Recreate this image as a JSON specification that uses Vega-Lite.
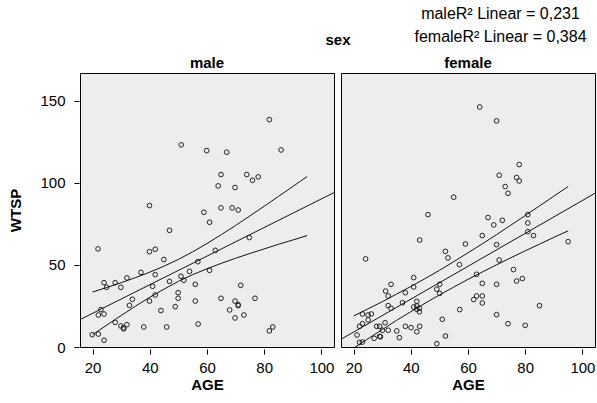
{
  "$schema": "https://vega.github.io/schema/vega-lite/v6.json",
  "padding": {"left": 8, "top": 6, "right": 3, "bottom": 5},
  "background": "white",
  "title": {
    "text": ["maleR² Linear = 0,231", "femaleR² Linear = 0,384"],
    "anchor": "end",
    "align": "center",
    "dx": -95,
    "offset": -12,
    "fontSize": 16,
    "fontWeight": "normal",
    "font": "Liberation Sans",
    "lineHeight": 23,
    "color": "black"
  },
  "data": {"values": [
    {"sex":"male","kind":"obs","AGE":81.8,"WTSP":138.6},{"sex":"male","kind":"obs","AGE":51.0,"WTSP":123.2},{"sex":"male","kind":"obs","AGE":59.9,"WTSP":119.7},{"sex":"male","kind":"obs","AGE":66.9,"WTSP":118.7},{"sex":"male","kind":"obs","AGE":85.9,"WTSP":120.1},{"sex":"male","kind":"obs","AGE":64.9,"WTSP":105.1},{"sex":"male","kind":"obs","AGE":73.9,"WTSP":105.1},{"sex":"male","kind":"obs","AGE":77.9,"WTSP":103.7},{"sex":"male","kind":"obs","AGE":75.9,"WTSP":101.6},{"sex":"male","kind":"obs","AGE":63.9,"WTSP":98.2},{"sex":"male","kind":"obs","AGE":69.8,"WTSP":97.2},{"sex":"male","kind":"obs","AGE":39.9,"WTSP":86.2},{"sex":"male","kind":"obs","AGE":64.9,"WTSP":84.8},{"sex":"male","kind":"obs","AGE":68.8,"WTSP":84.8},{"sex":"male","kind":"obs","AGE":70.9,"WTSP":83.5},{"sex":"male","kind":"obs","AGE":58.9,"WTSP":82.1},{"sex":"male","kind":"obs","AGE":60.9,"WTSP":76.0},{"sex":"male","kind":"obs","AGE":46.9,"WTSP":71.1},{"sex":"male","kind":"obs","AGE":74.8,"WTSP":66.7},{"sex":"male","kind":"obs","AGE":21.9,"WTSP":59.8},{"sex":"male","kind":"obs","AGE":39.9,"WTSP":58.1},{"sex":"male","kind":"obs","AGE":41.9,"WTSP":59.6},{"sex":"male","kind":"obs","AGE":62.9,"WTSP":58.9},{"sex":"male","kind":"obs","AGE":44.9,"WTSP":53.3},{"sex":"male","kind":"obs","AGE":56.8,"WTSP":52.0},{"sex":"male","kind":"obs","AGE":36.9,"WTSP":45.5},{"sex":"male","kind":"obs","AGE":53.9,"WTSP":46.1},{"sex":"male","kind":"obs","AGE":60.9,"WTSP":46.7},{"sex":"male","kind":"obs","AGE":41.9,"WTSP":44.1},{"sex":"male","kind":"obs","AGE":50.9,"WTSP":43.1},{"sex":"male","kind":"obs","AGE":51.9,"WTSP":40.7},{"sex":"male","kind":"obs","AGE":32.0,"WTSP":42.1},{"sex":"male","kind":"obs","AGE":24.0,"WTSP":39.2},{"sex":"male","kind":"obs","AGE":27.9,"WTSP":39.2},{"sex":"male","kind":"obs","AGE":24.9,"WTSP":36.4},{"sex":"male","kind":"obs","AGE":29.9,"WTSP":36.4},{"sex":"male","kind":"obs","AGE":46.9,"WTSP":40.0},{"sex":"male","kind":"obs","AGE":41.0,"WTSP":37.0},{"sex":"male","kind":"obs","AGE":55.9,"WTSP":38.2},{"sex":"male","kind":"obs","AGE":71.8,"WTSP":37.6},{"sex":"male","kind":"obs","AGE":49.9,"WTSP":33.1},{"sex":"male","kind":"obs","AGE":41.9,"WTSP":31.7},{"sex":"male","kind":"obs","AGE":33.9,"WTSP":29.1},{"sex":"male","kind":"obs","AGE":49.9,"WTSP":29.7},{"sex":"male","kind":"obs","AGE":64.9,"WTSP":29.7},{"sex":"male","kind":"obs","AGE":76.8,"WTSP":29.7},{"sex":"male","kind":"obs","AGE":39.9,"WTSP":28.0},{"sex":"male","kind":"obs","AGE":55.9,"WTSP":28.0},{"sex":"male","kind":"obs","AGE":69.8,"WTSP":28.0},{"sex":"male","kind":"obs","AGE":32.9,"WTSP":25.4},{"sex":"male","kind":"obs","AGE":70.9,"WTSP":25.8},{"sex":"male","kind":"obs","AGE":70.9,"WTSP":25.2},{"sex":"male","kind":"obs","AGE":48.9,"WTSP":24.6},{"sex":"male","kind":"obs","AGE":22.9,"WTSP":22.8},{"sex":"male","kind":"obs","AGE":43.9,"WTSP":22.2},{"sex":"male","kind":"obs","AGE":67.9,"WTSP":22.6},{"sex":"male","kind":"obs","AGE":22.0,"WTSP":19.5},{"sex":"male","kind":"obs","AGE":24.0,"WTSP":20.1},{"sex":"male","kind":"obs","AGE":72.9,"WTSP":19.5},{"sex":"male","kind":"obs","AGE":69.8,"WTSP":17.7},{"sex":"male","kind":"obs","AGE":27.9,"WTSP":15.0},{"sex":"male","kind":"obs","AGE":56.9,"WTSP":14.0},{"sex":"male","kind":"obs","AGE":29.9,"WTSP":12.8},{"sex":"male","kind":"obs","AGE":30.8,"WTSP":11.8},{"sex":"male","kind":"obs","AGE":32.0,"WTSP":13.6},{"sex":"male","kind":"obs","AGE":30.9,"WTSP":11.0},{"sex":"male","kind":"obs","AGE":37.9,"WTSP":12.2},{"sex":"male","kind":"obs","AGE":45.9,"WTSP":12.2},{"sex":"male","kind":"obs","AGE":83.0,"WTSP":12.2},{"sex":"male","kind":"obs","AGE":81.8,"WTSP":9.8},{"sex":"male","kind":"obs","AGE":19.9,"WTSP":7.5},{"sex":"male","kind":"obs","AGE":22.0,"WTSP":7.9},{"sex":"male","kind":"obs","AGE":24.0,"WTSP":4.1},
    {"sex":"female","kind":"obs","AGE":64.1,"WTSP":146.3},{"sex":"female","kind":"obs","AGE":70.0,"WTSP":137.8},{"sex":"female","kind":"obs","AGE":77.9,"WTSP":111.2},{"sex":"female","kind":"obs","AGE":70.9,"WTSP":104.7},{"sex":"female","kind":"obs","AGE":77.0,"WTSP":103.3},{"sex":"female","kind":"obs","AGE":77.9,"WTSP":101.2},{"sex":"female","kind":"obs","AGE":73.0,"WTSP":97.8},{"sex":"female","kind":"obs","AGE":74.0,"WTSP":93.7},{"sex":"female","kind":"obs","AGE":55.0,"WTSP":91.3},{"sex":"female","kind":"obs","AGE":46.0,"WTSP":80.7},{"sex":"female","kind":"obs","AGE":80.9,"WTSP":80.7},{"sex":"female","kind":"obs","AGE":67.0,"WTSP":78.9},{"sex":"female","kind":"obs","AGE":72.0,"WTSP":77.2},{"sex":"female","kind":"obs","AGE":69.0,"WTSP":74.4},{"sex":"female","kind":"obs","AGE":80.9,"WTSP":75.6},{"sex":"female","kind":"obs","AGE":80.9,"WTSP":70.3},{"sex":"female","kind":"obs","AGE":65.0,"WTSP":67.9},{"sex":"female","kind":"obs","AGE":82.9,"WTSP":67.9},{"sex":"female","kind":"obs","AGE":95.0,"WTSP":64.2},{"sex":"female","kind":"obs","AGE":43.1,"WTSP":65.2},{"sex":"female","kind":"obs","AGE":59.1,"WTSP":62.8},{"sex":"female","kind":"obs","AGE":70.0,"WTSP":62.4},{"sex":"female","kind":"obs","AGE":24.2,"WTSP":53.7},{"sex":"female","kind":"obs","AGE":52.1,"WTSP":58.3},{"sex":"female","kind":"obs","AGE":53.0,"WTSP":54.3},{"sex":"female","kind":"obs","AGE":70.9,"WTSP":53.0},{"sex":"female","kind":"obs","AGE":57.0,"WTSP":50.2},{"sex":"female","kind":"obs","AGE":75.9,"WTSP":47.2},{"sex":"female","kind":"obs","AGE":63.0,"WTSP":44.3},{"sex":"female","kind":"obs","AGE":77.0,"WTSP":40.2},{"sex":"female","kind":"obs","AGE":79.0,"WTSP":41.7},{"sex":"female","kind":"obs","AGE":65.0,"WTSP":38.8},{"sex":"female","kind":"obs","AGE":70.0,"WTSP":38.2},{"sex":"female","kind":"obs","AGE":41.0,"WTSP":42.3},{"sex":"female","kind":"obs","AGE":41.0,"WTSP":36.6},{"sex":"female","kind":"obs","AGE":33.1,"WTSP":38.2},{"sex":"female","kind":"obs","AGE":50.1,"WTSP":38.2},{"sex":"female","kind":"obs","AGE":49.1,"WTSP":35.2},{"sex":"female","kind":"obs","AGE":50.1,"WTSP":32.7},{"sex":"female","kind":"obs","AGE":31.2,"WTSP":34.1},{"sex":"female","kind":"obs","AGE":32.1,"WTSP":31.1},{"sex":"female","kind":"obs","AGE":38.1,"WTSP":33.1},{"sex":"female","kind":"obs","AGE":63.0,"WTSP":31.1},{"sex":"female","kind":"obs","AGE":65.0,"WTSP":31.1},{"sex":"female","kind":"obs","AGE":62.0,"WTSP":28.9},{"sex":"female","kind":"obs","AGE":65.0,"WTSP":26.8},{"sex":"female","kind":"obs","AGE":37.1,"WTSP":27.0},{"sex":"female","kind":"obs","AGE":42.1,"WTSP":27.8},{"sex":"female","kind":"obs","AGE":32.1,"WTSP":25.2},{"sex":"female","kind":"obs","AGE":33.1,"WTSP":23.6},{"sex":"female","kind":"obs","AGE":41.0,"WTSP":24.4},{"sex":"female","kind":"obs","AGE":42.1,"WTSP":25.0},{"sex":"female","kind":"obs","AGE":43.0,"WTSP":23.6},{"sex":"female","kind":"obs","AGE":43.0,"WTSP":21.5},{"sex":"female","kind":"obs","AGE":42.1,"WTSP":23.0},{"sex":"female","kind":"obs","AGE":57.1,"WTSP":22.8},{"sex":"female","kind":"obs","AGE":23.1,"WTSP":20.1},{"sex":"female","kind":"obs","AGE":25.1,"WTSP":19.5},{"sex":"female","kind":"obs","AGE":26.2,"WTSP":20.1},{"sex":"female","kind":"obs","AGE":25.1,"WTSP":16.5},{"sex":"female","kind":"obs","AGE":23.1,"WTSP":14.2},{"sex":"female","kind":"obs","AGE":22.1,"WTSP":12.6},{"sex":"female","kind":"obs","AGE":51.0,"WTSP":16.9},{"sex":"female","kind":"obs","AGE":85.0,"WTSP":25.2},{"sex":"female","kind":"obs","AGE":70.0,"WTSP":19.7},{"sex":"female","kind":"obs","AGE":74.0,"WTSP":14.2},{"sex":"female","kind":"obs","AGE":80.0,"WTSP":13.2},{"sex":"female","kind":"obs","AGE":28.1,"WTSP":12.6},{"sex":"female","kind":"obs","AGE":29.1,"WTSP":12.6},{"sex":"female","kind":"obs","AGE":31.0,"WTSP":14.8},{"sex":"female","kind":"obs","AGE":30.1,"WTSP":10.2},{"sex":"female","kind":"obs","AGE":32.1,"WTSP":10.2},{"sex":"female","kind":"obs","AGE":35.1,"WTSP":9.8},{"sex":"female","kind":"obs","AGE":38.1,"WTSP":12.6},{"sex":"female","kind":"obs","AGE":40.1,"WTSP":11.8},{"sex":"female","kind":"obs","AGE":43.1,"WTSP":12.6},{"sex":"female","kind":"obs","AGE":42.1,"WTSP":9.3},{"sex":"female","kind":"obs","AGE":21.2,"WTSP":7.3},{"sex":"female","kind":"obs","AGE":27.2,"WTSP":5.3},{"sex":"female","kind":"obs","AGE":29.1,"WTSP":6.5},{"sex":"female","kind":"obs","AGE":29.4,"WTSP":6.2},{"sex":"female","kind":"obs","AGE":36.0,"WTSP":5.7},{"sex":"female","kind":"obs","AGE":52.1,"WTSP":6.7},{"sex":"female","kind":"obs","AGE":49.1,"WTSP":2.0},{"sex":"female","kind":"obs","AGE":22.1,"WTSP":2.8},{"sex":"female","kind":"obs","AGE":23.1,"WTSP":3.0},
    {"sex":"male","kind":"fit","AGE":15.6,"WTSP":16.7},{"sex":"male","kind":"fit","AGE":104.4,"WTSP":94.1},
    {"sex":"female","kind":"fit","AGE":15.6,"WTSP":4.7},{"sex":"female","kind":"fit","AGE":104.4,"WTSP":93.7},
    {"sex":"male","kind":"upper","AGE":20,"WTSP":33.5},{"sex":"male","kind":"upper","AGE":25,"WTSP":36.3},{"sex":"male","kind":"upper","AGE":30,"WTSP":39.2},{"sex":"male","kind":"upper","AGE":35,"WTSP":42.3},{"sex":"male","kind":"upper","AGE":40,"WTSP":45.6},{"sex":"male","kind":"upper","AGE":45,"WTSP":49.3},{"sex":"male","kind":"upper","AGE":50,"WTSP":53.4},{"sex":"male","kind":"upper","AGE":55,"WTSP":58.0},{"sex":"male","kind":"upper","AGE":60,"WTSP":63.1},{"sex":"male","kind":"upper","AGE":65,"WTSP":68.5},{"sex":"male","kind":"upper","AGE":70,"WTSP":74.1},{"sex":"male","kind":"upper","AGE":75,"WTSP":79.9},{"sex":"male","kind":"upper","AGE":80,"WTSP":85.8},{"sex":"male","kind":"upper","AGE":85,"WTSP":91.8},{"sex":"male","kind":"upper","AGE":90,"WTSP":97.8},{"sex":"male","kind":"upper","AGE":95,"WTSP":103.9},
    {"sex":"male","kind":"lower","AGE":20,"WTSP":7.5},{"sex":"male","kind":"lower","AGE":25,"WTSP":13.4},{"sex":"male","kind":"lower","AGE":30,"WTSP":19.2},{"sex":"male","kind":"lower","AGE":35,"WTSP":24.9},{"sex":"male","kind":"lower","AGE":40,"WTSP":30.3},{"sex":"male","kind":"lower","AGE":45,"WTSP":35.3},{"sex":"male","kind":"lower","AGE":50,"WTSP":40.0},{"sex":"male","kind":"lower","AGE":55,"WTSP":44.1},{"sex":"male","kind":"lower","AGE":60,"WTSP":47.7},{"sex":"male","kind":"lower","AGE":65,"WTSP":51.0},{"sex":"male","kind":"lower","AGE":70,"WTSP":54.1},{"sex":"male","kind":"lower","AGE":75,"WTSP":57.0},{"sex":"male","kind":"lower","AGE":80,"WTSP":59.8},{"sex":"male","kind":"lower","AGE":85,"WTSP":62.6},{"sex":"male","kind":"lower","AGE":90,"WTSP":65.2},{"sex":"male","kind":"lower","AGE":95,"WTSP":67.9},
    {"sex":"female","kind":"upper","AGE":20,"WTSP":18.9},{"sex":"female","kind":"upper","AGE":25,"WTSP":23.2},{"sex":"female","kind":"upper","AGE":30,"WTSP":27.6},{"sex":"female","kind":"upper","AGE":35,"WTSP":32.2},{"sex":"female","kind":"upper","AGE":40,"WTSP":36.9},{"sex":"female","kind":"upper","AGE":45,"WTSP":41.7},{"sex":"female","kind":"upper","AGE":50,"WTSP":46.7},{"sex":"female","kind":"upper","AGE":55,"WTSP":52.0},{"sex":"female","kind":"upper","AGE":60,"WTSP":57.4},{"sex":"female","kind":"upper","AGE":65,"WTSP":62.9},{"sex":"female","kind":"upper","AGE":70,"WTSP":68.5},{"sex":"female","kind":"upper","AGE":75,"WTSP":74.3},{"sex":"female","kind":"upper","AGE":80,"WTSP":80.1},{"sex":"female","kind":"upper","AGE":85,"WTSP":86.0},{"sex":"female","kind":"upper","AGE":90,"WTSP":91.9},{"sex":"female","kind":"upper","AGE":95,"WTSP":97.8},
    {"sex":"female","kind":"lower","AGE":20,"WTSP":-0.7},{"sex":"female","kind":"lower","AGE":25,"WTSP":5.0},{"sex":"female","kind":"lower","AGE":30,"WTSP":10.6},{"sex":"female","kind":"lower","AGE":35,"WTSP":16.2},{"sex":"female","kind":"lower","AGE":40,"WTSP":21.5},{"sex":"female","kind":"lower","AGE":45,"WTSP":26.7},{"sex":"female","kind":"lower","AGE":50,"WTSP":31.7},{"sex":"female","kind":"lower","AGE":55,"WTSP":36.5},{"sex":"female","kind":"lower","AGE":60,"WTSP":41.2},{"sex":"female","kind":"lower","AGE":65,"WTSP":45.7},{"sex":"female","kind":"lower","AGE":70,"WTSP":50.1},{"sex":"female","kind":"lower","AGE":75,"WTSP":54.4},{"sex":"female","kind":"lower","AGE":80,"WTSP":58.6},{"sex":"female","kind":"lower","AGE":85,"WTSP":62.7},{"sex":"female","kind":"lower","AGE":90,"WTSP":66.8},{"sex":"female","kind":"lower","AGE":95,"WTSP":70.8}
  ]},
  "facet": {
    "column": {
      "field": "sex",
      "type": "nominal",
      "sort": ["male", "female"],
      "title": "sex"
    }
  },
  "spacing": 5,
  "spec": {
    "width": 254,
    "height": 274,
    "layer": [
      {
        "transform": [{"filter": "datum.kind === 'obs'"}],
        "mark": {"type": "point", "shape": "circle", "filled": false, "size": 22, "strokeWidth": 1, "color": "#222222", "opacity": 1},
        "encoding": {
          "x": {"field": "AGE", "type": "quantitative"},
          "y": {"field": "WTSP", "type": "quantitative"}
        }
      },
      {
        "transform": [{"filter": "datum.kind !== 'obs'"}],
        "mark": {"type": "line", "color": "#111111", "strokeWidth": 1, "clip": true},
        "encoding": {
          "x": {"field": "AGE", "type": "quantitative"},
          "y": {"field": "WTSP", "type": "quantitative"},
          "detail": {"field": "kind"}
        }
      }
    ],
    "encoding": {
      "x": {"field": "AGE", "type": "quantitative", "title": "AGE",
        "scale": {"domain": [15.6, 104.4], "nice": false, "zero": false},
        "axis": {"values": [20, 40, 60, 80, 100]}},
      "y": {"field": "WTSP", "type": "quantitative", "title": "WTSP",
        "scale": {"domain": [0, 167], "nice": false, "zero": false},
        "axis": {"values": [0, 50, 100, 150]}}
    }
  },
  "resolve": {"scale": {"x": "shared", "y": "shared"}},
  "config": {
    "font": "Liberation Sans",
    "view": {"stroke": "#000000", "strokeWidth": 1, "fill": "#ededed"},
    "axis": {
      "grid": false,
      "domain": false,
      "ticks": true,
      "tickSize": 5,
      "tickColor": "#000000",
      "labelColor": "#000000",
      "labelFontSize": 15,
      "labelFont": "Liberation Sans",
      "titleFont": "Liberation Sans",
      "titleFontSize": 15,
      "titleFontWeight": "bold",
      "titleColor": "#000000"
    },
    "axisY": {"labelPadding": 9, "titlePadding": 16},
    "axisX": {"labelPadding": 6, "titlePadding": 2},
    "header": {
      "labelFont": "Liberation Sans",
      "labelFontSize": 15,
      "labelFontWeight": "bold",
      "labelColor": "#000000",
      "labelPadding": 1,
      "titleFont": "Liberation Sans",
      "titleFontSize": 15,
      "titleFontWeight": "bold",
      "titleColor": "#000000",
      "titlePadding": -2
    }
  }
}
